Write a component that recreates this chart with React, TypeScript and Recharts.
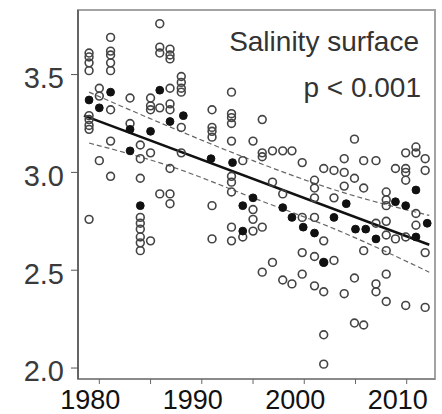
import { ComposedChart, Scatter, Line, XAxis, YAxis, ReferenceArea } from 'recharts';

// individual samples, grouped by year
const sampleYears = [
  1979.0, 1980.0, 1981.1, 1983.0, 1984.0, 1985.0, 1985.9, 1986.9, 1988.0, 1991.0,
  1992.9, 1994.0, 1995.0, 1995.9, 1996.9, 1997.9, 1998.8, 1999.8, 2001.0, 2001.9,
  2002.9, 2003.9, 2004.9, 2005.8, 2007.0, 2008.0, 2008.9, 2009.9, 2010.9, 2011.8,
];
const sampleValues = [
  [3.61, 3.59, 3.56, 3.52, 3.29, 3.27, 3.24, 3.22, 2.76],
  [3.43, 3.39, 3.06],
  [3.69, 3.62, 3.6, 3.56, 3.52, 3.32, 3.16, 2.98],
  [3.38, 3.25],
  [3.14, 3.07, 2.97, 2.77, 2.74, 2.71, 2.67, 2.64, 2.6],
  [3.38, 3.34, 3.32, 3.1, 2.65],
  [3.76, 3.64, 3.61, 3.33, 2.89],
  [3.63, 3.6, 3.58, 3.43, 3.35, 3.32, 3.02, 2.89, 2.84],
  [3.49, 3.46, 3.43, 3.41, 3.23, 3.1],
  [3.32, 3.23, 3.21, 3.18, 2.83, 2.66],
  [3.41, 3.3, 3.28, 3.25, 3.16, 2.98, 2.95, 2.9, 2.72, 2.65],
  [3.06, 2.67],
  [3.16, 2.81, 2.76, 2.7],
  [3.27, 3.1, 3.08, 2.72, 2.49],
  [3.11, 2.95, 2.54],
  [3.11, 2.89, 2.45],
  [3.11, 2.43],
  [3.05, 2.77, 2.59, 2.48],
  [2.96, 2.92, 2.87, 2.77, 2.57, 2.42],
  [3.02, 2.65, 2.54, 2.39, 2.17, 2.02],
  [3.01, 2.87, 2.55],
  [3.07, 3.0, 2.93, 2.38],
  [3.17, 2.97, 2.46, 2.23],
  [3.06, 2.92, 2.6, 2.22],
  [3.06, 2.74, 2.43, 2.39],
  [2.9, 2.86, 2.83, 2.75, 2.68, 2.6, 2.48, 2.34],
  [3.02, 2.66],
  [3.1, 3.02, 3.0, 2.96, 2.67, 2.32],
  [3.13, 3.1, 2.79, 2.73],
  [3.07, 3.01, 2.59, 2.31],
];

// filled dots
const meanYears = [
  1979.0, 1980.0, 1981.1, 1983.0, 1983.0, 1984.0, 1985.0, 1985.9, 1986.9, 1988.2,
  1990.9, 1993.0, 1994.0, 1994.0, 1995.0, 1997.9, 1998.8, 1999.9, 2001.0, 2001.9,
  2002.9, 2004.1, 2005.0, 2006.0, 2007.0, 2008.9, 2009.9, 2010.9, 2010.9, 2012.0,
];
const meanValues = [
  3.37, 3.33, 3.41, 3.22, 3.11, 2.83, 3.21, 3.42, 3.26, 3.29,
  3.07, 3.05, 2.83, 2.7, 2.87, 2.82, 2.77, 2.72, 2.69, 2.54,
  2.77, 2.84, 2.71, 2.71, 2.66, 2.85, 2.83, 2.91, 2.67, 2.74,
];

const fitYears = [1978.5, 2012.2];
const fitValues = [3.29, 2.63];

const bandYears = [1979, 1987, 1995, 2003, 2012.2];
const upperBand = [3.41, 3.23, 3.06, 2.91, 2.78];
const lowerBand = [3.15, 3.03, 2.87, 2.71, 2.49];

const xTicks = [1980, 1985, 1990, 1995, 2000, 2005, 2010];
const xLabels = [1980, 1990, 2000, 2010];
const yTicks = [2.0, 2.5, 3.0, 3.5];

const samples = sampleYears.flatMap((year, i) => sampleValues[i].map((value) => ({ year, value })));
const means = meanYears.map((year, i) => ({ year, value: meanValues[i] }));
const fit = fitYears.map((year, i) => ({ year, value: fitValues[i] }));
const upper = bandYears.map((year, i) => ({ year, value: upperBand[i] }));
const lower = bandYears.map((year, i) => ({ year, value: lowerBand[i] }));

const X_DOMAIN = [1977.92, 2012.76];
const Y_DOMAIN = [1.944, 3.83];
const font = '"Liberation Sans", Arial, Helvetica, sans-serif';

const OpenDot = (props: any) => (
  <circle cx={props.cx} cy={props.cy} r={3.9} fill="none" stroke="#444" strokeWidth={1.6} />
);

const FilledDot = (props: any) => (
  <circle cx={props.cx} cy={props.cy} r={3.9} fill="#111" stroke="#111" strokeWidth={1} />
);

const XTick = ({ x, y, payload }: any) =>
  xLabels.includes(payload.value) ? (
    <text x={x - 9} y={y} dy="0.71em" textAnchor="middle" fontSize={27} fill="#111" fontFamily={font}>
      {payload.value}
    </text>
  ) : (
    <g />
  );

const YTick = ({ x, y, payload }: any) => (
  <text x={x} y={y + 3} dy="0.355em" textAnchor="end" fontSize={29} fill="#3a3a3a" fontFamily={font}>
    {payload.value.toFixed(1)}
  </text>
);

export default function App() {
  return (
    <div style={{ position: 'relative', width: 442, height: 414, background: '#fff' }}>
      <style>{'body{margin:0}'}</style>
      <ComposedChart width={442} height={414} margin={{ top: 10, right: 7, bottom: 0, left: 0 }}>
        <ReferenceArea
          x1={X_DOMAIN[0]}
          x2={X_DOMAIN[1]}
          y1={Y_DOMAIN[0]}
          y2={Y_DOMAIN[1]}
          fill="none"
          stroke="#a3a3a3"
          strokeWidth={2}
          ifOverflow="visible"
        />
        <XAxis
          dataKey="year"
          type="number"
          domain={X_DOMAIN}
          allowDataOverflow
          ticks={xTicks}
          tick={<XTick />}
          tickSize={5}
          tickMargin={6}
          height={35}
          axisLine={{ stroke: '#8a8a8a', strokeWidth: 2 }}
          tickLine={{ stroke: '#666' }}
        />
        <YAxis
          type="number"
          domain={Y_DOMAIN}
          allowDataOverflow
          ticks={yTicks}
          tick={<YTick />}
          tickSize={7}
          tickMargin={7}
          width={78}
          axisLine={{ stroke: '#555', strokeWidth: 1.6 }}
          tickLine={{ stroke: '#555' }}
        />
        <Scatter data={samples} dataKey="value" shape={OpenDot} isAnimationActive={false} />
        <Line
          data={upper}
          dataKey="value"
          type="monotone"
          stroke="#666"
          strokeWidth={1.2}
          strokeDasharray="5 3"
          dot={false}
          isAnimationActive={false}
        />
        <Line
          data={lower}
          dataKey="value"
          type="monotone"
          stroke="#666"
          strokeWidth={1.2}
          strokeDasharray="5 3"
          dot={false}
          isAnimationActive={false}
        />
        <Line
          data={fit}
          dataKey="value"
          type="linear"
          stroke="#111"
          strokeWidth={2.6}
          dot={false}
          isAnimationActive={false}
        />
        <Scatter data={means} dataKey="value" shape={FilledDot} isAnimationActive={false} />
      </ComposedChart>
      <div
        style={{
          position: 'absolute',
          right: 23,
          top: 28,
          fontFamily: font,
          fontSize: 28,
          lineHeight: '28px',
          color: '#333',
          whiteSpace: 'nowrap',
        }}
      >
        Salinity surface
      </div>
      <div
        style={{
          position: 'absolute',
          right: 21,
          top: 74,
          fontFamily: font,
          fontSize: 28,
          lineHeight: '28px',
          color: '#333',
          whiteSpace: 'nowrap',
        }}
      >
        p &lt; 0.001
      </div>
    </div>
  );
}
